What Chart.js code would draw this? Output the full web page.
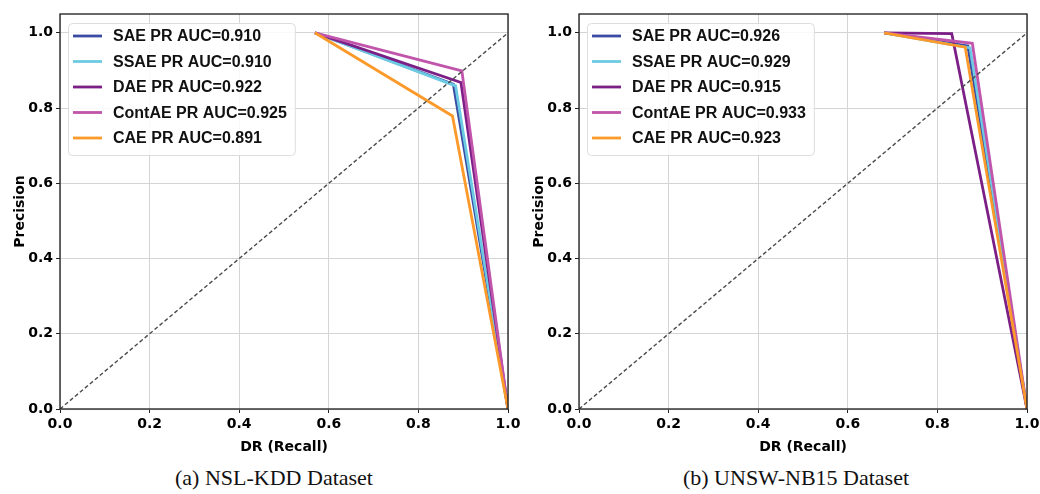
<!DOCTYPE html>
<html>
<head>
<meta charset="utf-8">
<script src="https://cdn.jsdelivr.net/npm/chart.js@4"></script>
<style>
  body { margin: 0; background: #fff; width: 1040px; height: 494px; position: relative; overflow: hidden; }
  .panel { position: absolute; top: 0; width: 520px; height: 460px; }
  .caption {
    position: absolute; top: 478px; transform: translate(-50%, -50%);
    font-family: 'Liberation Serif', 'Times New Roman', serif; font-size: 22px; color: #111; white-space: nowrap;
  }
</style>
</head>
<body>
<div class="panel" style="left:0"><canvas id="nslChart" width="520" height="460"></canvas></div>
<div class="panel" style="left:520px"><canvas id="unswChart" width="520" height="460"></canvas></div>
<div class="caption" style="left:274px">(a) NSL-KDD Dataset</div>
<div class="caption" style="left:796px">(b) UNSW-NB15 Dataset</div>
<script>
const modelNames = ['SAE', 'SSAE', 'DAE', 'ContAE', 'CAE'];
const modelColors = ['#3a4ba3', '#6ccbe3', '#7b1f86', '#c055ab', '#fb9a2a'];
const axisTicks = [0.0, 0.2, 0.4, 0.6, 0.8, 1.0];
const chanceLine = [0.0, 1.0];

// (a) NSL-KDD
const nslAuc = [0.910, 0.910, 0.922, 0.925, 0.891];
const nslRecall = [
    [0.569, 0.878, 1.0],
    [0.569, 0.883, 1.0],
    [0.569, 0.895, 1.0],
    [0.569, 0.897, 1.0],
    [0.569, 0.876, 1.0]
];
const nslPrecision = [
    [1.0, 0.863, 0.0],
    [1.0, 0.859, 0.0],
    [1.0, 0.868, 0.0],
    [1.0, 0.899, 0.0],
    [1.0, 0.779, 0.0]
];

// (b) UNSW-NB15
const unswAuc = [0.926, 0.929, 0.915, 0.933, 0.923];
const unswRecall = [
    [0.681, 0.868, 1.0],
    [0.681, 0.873, 1.0],
    [0.681, 0.832, 1.0],
    [0.681, 0.878, 1.0],
    [0.681, 0.862, 1.0]
];
const unswPrecision = [
    [1.0, 0.965, 0.0],
    [1.0, 0.960, 0.0],
    [1.0, 0.998, 0.0],
    [1.0, 0.972, 0.0],
    [1.0, 0.962, 0.0]
];

const tickFont = { family: '"DejaVu Sans", sans-serif', size: 14, weight: 'bold' };

// box legend drawn inside the plot, upper left (like matplotlib)
const boxLegend = {
    id: 'boxLegend',
    afterDraw(chart) {
        const { ctx, chartArea } = chart;
        const items = chart.data.datasets.filter(d => !d.isChance);
        ctx.save();
        ctx.font = 'bold 16px "Liberation Sans", Arial, sans-serif';
        const textW = Math.max(...items.map(d => ctx.measureText(d.label).width));
        const x0 = chartArea.left + 8, y0 = chartArea.top + 9;
        const w = 45 + textW + 8, h = 132;
        ctx.fillStyle = 'rgba(255,255,255,0.85)';
        ctx.strokeStyle = '#dddddd';
        ctx.lineWidth = 1;
        ctx.beginPath();
        ctx.roundRect(x0 + 0.5, y0 + 0.5, w, h, 4);
        ctx.fill();
        ctx.stroke();
        items.forEach((d, i) => {
            const cy = y0 + 13 + i * 25.5;
            ctx.strokeStyle = d.borderColor;
            ctx.lineWidth = 2.8;
            ctx.beginPath();
            ctx.moveTo(x0 + 5, cy);
            ctx.lineTo(x0 + 34, cy);
            ctx.stroke();
            ctx.fillStyle = '#111';
            ctx.textBaseline = 'middle';
            ctx.fillText(d.label, x0 + 45, cy + 1);
        });
        ctx.restore();
    }
};

// full frame round the axes
const frame = {
    id: 'frame',
    afterDatasetsDraw(chart) {
        const { ctx, chartArea: a } = chart;
        ctx.save();
        ctx.strokeStyle = '#1a1a1a';
        ctx.lineWidth = 1.3;
        ctx.strokeRect(a.left, a.top, a.right - a.left, a.bottom - a.top);
        ctx.restore();
    }
};

function buildChart(canvasId, recall, precision, auc, yWidth, yTitlePad, rightPad) {
    const datasets = modelNames.map((name, i) => ({
        label: name + ' PR AUC=' + auc[i].toFixed(3),
        data: recall[i].map((r, j) => ({ x: r, y: precision[i][j] })),
        borderColor: modelColors[i],
        borderWidth: 2.8,
        pointRadius: 0,
        showLine: true,
        fill: false,
        order: modelNames.length - i
    }));
    datasets.push({
        label: 'chance',
        isChance: true,
        data: chanceLine.map(v => ({ x: v, y: v })),
        borderColor: '#4a4a4a',
        borderWidth: 1.4,
        borderDash: [4, 2.5],
        pointRadius: 0,
        showLine: true,
        order: 0
    });

    return new Chart(document.getElementById(canvasId).getContext('2d'), {
        type: 'scatter',
        data: { datasets: datasets },
        options: {
            responsive: false,
            animation: false,
            layout: { padding: { left: 0, top: 14, right: rightPad, bottom: 0 } },
            plugins: { legend: { display: false }, tooltip: { enabled: false } },
            scales: {
                x: {
                    type: 'linear', min: 0, max: 1,
                    afterBuildTicks: s => { s.ticks = axisTicks.map(v => ({ value: v })); },
                    afterFit: s => { s.height = 51; s.paddingLeft = 0; s.paddingRight = 0; },
                    ticks: { callback: v => v.toFixed(1), font: tickFont, color: '#000', padding: 3, maxRotation: 0, autoSkip: false },
                    grid: { color: '#d4d4d4', lineWidth: 1, tickLength: 4, tickColor: '#222' },
                    border: { display: false },
                    title: { display: true, text: 'DR (Recall)', font: tickFont, color: '#000', padding: { top: 0, bottom: 4.6 } }
                },
                y: {
                    type: 'linear', min: 0, max: 1.05,
                    afterBuildTicks: s => { s.ticks = axisTicks.map(v => ({ value: v })); },
                    afterFit: s => { s.width = yWidth; s.paddingTop = 0; s.paddingBottom = 0; },
                    ticks: { callback: v => v.toFixed(1), font: tickFont, color: '#000', padding: 3, autoSkip: false },
                    grid: { color: '#d4d4d4', lineWidth: 1, tickLength: 4, tickColor: '#222' },
                    border: { display: false },
                    title: { display: true, text: 'Precision', font: tickFont, color: '#000', padding: { top: yTitlePad, bottom: 0 } }
                }
            }
        },
        plugins: [frame, boxLegend]
    });
}

buildChart('nslChart', nslRecall, nslPrecision, nslAuc, 60, 11.6, 12);
buildChart('unswChart', unswRecall, unswPrecision, unswAuc, 59, 10.9, 13);
</script>
</body>
</html>
